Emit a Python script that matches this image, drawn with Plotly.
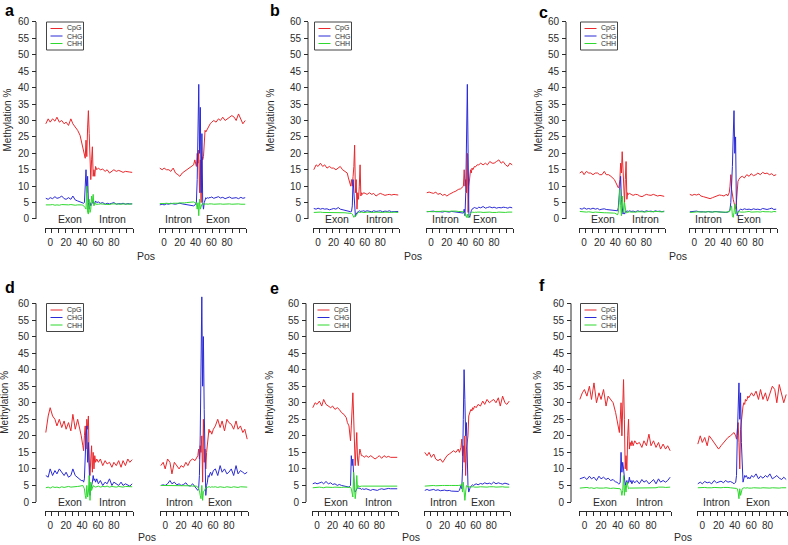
import plotly.graph_objects as go

W, H = 788, 545

# ---------------- data ----------------
POS = [-5.5, -2.5, 0, 3, 6, 8.5, 11.5, 14.5, 17.5, 20, 23, 26, 28.5, 31.5, 34.5, 37.5,
       39, 41,
       42, 43, 44, 45, 46, 47, 48, 49, 50, 51, 52, 53, 54, 55, 56, 57,
       58.5, 60.5,
       63, 66, 69, 71.5, 74.5, 77.5, 80, 83, 86, 89, 91.5, 94.5, 97.5, 100, 103]

X_TICK_POS = [0, 20, 40, 60, 80]
X_TICK_LABELS = ["0", "20", "40", "60", "80"]
Y_TICKS = [0, 5, 10, 15, 20, 25, 30, 35, 40, 45, 50, 55, 60]
SERIES = ["CpG", "CHG", "CHH"]
PANEL_LETTERS = ["a", "b", "c", "d", "e", "f"]
SEG_LABELS_LEFT = ["Exon", "Intron"]
SEG_LABELS_RIGHT = ["Intron", "Exon"]

# panel a
A_L_CPG = [29, 30.5, 29.5, 30.5, 29.8, 31, 29.5, 30, 29, 29.5, 28.5, 30.5, 29, 28, 27, 25.5,
           24, 22,
           21, 20, 18.5, 24, 19, 28, 33, 26, 16, 12, 18, 22, 13, 15, 13, 16,
           15, 15.5,
           15, 15.2, 14.5, 15, 14, 14.5, 15, 14.5, 14.8, 14.5, 14.2, 14.5, 14.5, 14.3, 14.2]
A_L_CHG = [6.3, 6, 6.5, 6.2, 6.8, 6.3, 6.5, 7, 6.2, 6, 6.5, 6, 7, 5.8, 5.5, 5.3,
           5.2, 5,
           4.8, 5, 12, 15, 8, 13, 5, 3, 5, 4, 4.5, 5, 5.5, 4.5, 4.8, 5.5,
           5, 5.2,
           4.8, 5, 4.5, 4.8, 4.6, 4.8, 5, 4.5, 4.7, 4.6, 4.8, 4.5, 4.7, 4.6, 4.6]
A_L_CHH = [4.3, 4.2, 4.3, 4.4, 4.2, 4.3, 4.2, 4.4, 4.3, 4.2, 4.3, 4.4, 4.3, 4.2, 4.3, 4.4,
           4.3, 4.2,
           4.0, 3.8, 3.5, 3.0, 10, 2, 1.5, 6, 2, 3, 7, 5, 7.5, 4, 5, 4.5,
           4.6, 4.5,
           4.6, 4.5, 4.6, 4.5, 4.4, 4.6, 4.5, 4.6, 4.5, 4.6, 4.5, 4.6, 4.5, 4.5, 4.6]
A_R_CPG = [15.5, 15, 15.5, 15, 15, 14.5, 15.5, 14, 13.5, 13, 14, 14.5, 15, 15.5, 16, 16.5,
           18, 16,
           20, 17, 21, 8, 18, 5, 19, 18, 19, 24, 27, 26.5, 27, 27.5, 28, 28,
           29, 29.5,
           30, 29.5, 30.5, 30, 31, 30, 30.5, 31, 31.5, 31, 30, 32, 30, 29, 30]
A_R_CHG = [4.3, 4.5, 4.3, 4.6, 4.5, 4.8, 4.6, 4.5, 4.7, 4.8, 4.6, 4.5, 4.4, 4.3, 4.2, 4.0,
           4.2, 5,
           12, 32, 41, 20, 34, 8, 26, 5, 3, 5, 6, 6.5, 6.2, 6.5, 6.3, 6.5,
           6.5, 6.7,
           6.3, 6.5, 6.8, 6.4, 6.6, 6.2, 6.5, 6.7, 6.3, 6.4, 6.5, 6.2, 6.6, 6.3, 6.5]
A_R_CHH = [4.7, 4.6, 4.7, 4.8, 4.7, 4.6, 4.8, 4.7, 4.8, 4.9, 4.8, 4.9, 5.0, 5.1, 5.2, 5.2,
           5.0, 4.8,
           3, 5, 1, 6, 3, 4, 4.5, 4.6, 4.5, 4.6, 4.5, 4.6, 4.5, 4.6, 4.5, 4.6,
           4.5, 4.6,
           4.5, 4.6, 4.5, 4.6, 4.5, 4.6, 4.5, 4.6, 4.5, 4.6, 4.5, 4.6, 4.5, 4.6, 4.5]

# panel b
B_L_CPG = [15, 16.5, 16, 17, 16, 16.5, 15.5, 16, 15.5, 15.5, 15, 15.5, 16, 15, 14.5, 14,
           12.5, 11,
           10, 12, 10, 13, 16, 22.5, 8, 12, 3, 8, 6, 10, 16.5, 7, 8, 7.5,
           8, 7.8,
           7.5, 8, 7.5, 7.8, 7, 7.5, 7.8, 7.5, 7.2, 7.4, 7.5, 7.3, 7.5, 7.4, 7.3]
B_L_CHG = [3.2, 3, 3.3, 3, 3.2, 3, 3.1, 2.8, 3, 3.2, 3, 3.5, 3, 2.8, 2.7, 2.5,
           2.5, 2.3,
           2.2, 2.3, 4, 12, 8, 2, 0.8, 1.5, 2, 2.2, 2.3, 2.5, 2.3, 2.4, 2.5, 2.4,
           2.5, 2.3,
           2.5, 2.4, 2.2, 2.5, 2.3, 2.4, 2.5, 2.2, 2.4, 2.3, 2.5, 2.2, 2.3, 2.4, 2.3]
B_L_CHH = [2, 2.1, 2, 2.1, 2, 2, 2.1, 2, 2, 2.1, 2, 1.9, 2, 1.9, 1.9, 1.8,
           1.8, 1.8,
           1.8, 1.7, 1.5, 1, 0.5, 1, 0.8, 1.2, 1.5, 1.8, 2, 2, 2.1, 2, 2.1, 2,
           2.1, 2,
           2.1, 2, 2.1, 2, 2.1, 2, 2.1, 2, 2.1, 2, 2.1, 2, 2.1, 2, 2]
B_R_CPG = [8, 8.2, 8, 7.8, 8.2, 7.5, 7.8, 7.2, 7.5, 7, 7.5, 8, 8.2, 8.5, 9, 9.2,
           9.5, 10,
           15, 10, 12, 8, 20, 2, 10, 12, 15, 14, 15.5, 15, 15.5, 16, 15.8, 16,
           16.5, 16.5,
           17, 16.5, 17, 16.5, 17.5, 17, 17, 17.5, 18, 17, 17.5, 16.5, 16, 17, 16.5]
B_R_CHG = [2.2, 2.3, 2.2, 2.4, 2.2, 2.3, 2.2, 2.1, 2.3, 2.2, 2.1, 2.3, 2.2, 2.1, 2, 2,
           2, 1.8,
           3, 1, 8, 30, 41, 20, 1, 0.5, 2, 2.5, 3, 3.2, 3.3, 3.5, 3.4, 3.3,
           3.2, 3.6,
           3.4, 3.8, 3.3, 3.5, 3.7, 3.4, 3.6, 3.3, 3.5, 3.4, 3.6, 3.5, 3.3, 3.6, 3.4]
B_R_CHH = [2.3, 2.2, 2.3, 2.2, 2.3, 2.2, 2.3, 2.4, 2.3, 2.4, 2.3, 2.4, 2.3, 2.4, 2.3, 2.3,
           2.2, 2.2,
           2, 1.5, 1, 0.5, 1.5, 0.3, 1, 1.5, 1.8, 2, 2.1, 2, 2.1, 2, 2.1, 2,
           2.1, 2,
           2.1, 2, 2.1, 2, 2.1, 2, 2.1, 2, 2.1, 2, 2.1, 2, 2.1, 2, 2.1]

# panel c
C_L_CPG = [14, 14.5, 13.5, 14.5, 14, 14, 13.5, 14, 14, 13.5, 13.5, 14.5, 13.5, 13.5, 13, 12.5,
           12, 11,
           10.5, 10, 9.5, 10, 12, 17, 14, 20.5, 15, 7, 5, 12, 17.5, 6, 8, 7.5,
           7.8, 7.5,
           7.2, 7.5, 7.4, 7, 6.8, 7.2, 7.5, 7.3, 7.2, 7.5, 7.2, 7, 7.2, 7, 6.9]
C_L_CHG = [3.2, 3, 3.4, 3, 3.2, 3, 3.3, 3, 3.2, 2.8, 3, 3.1, 2.9, 2.8, 2.8, 2.6,
           2.5, 2.5,
           2.4, 2.5, 3.5, 8, 12, 13, 6, 4, 1.5, 2, 1.5, 2, 2.5, 2.2, 2.5, 2.3,
           2.5, 2.3,
           2.4, 2.2, 2.5, 2.3, 2.4, 2.2, 2.5, 2.3, 2.4, 2.2, 2.5, 2.3, 2.4, 2.2, 2.4]
C_L_CHH = [2.3, 2.2, 2.3, 2.1, 2.2, 2.1, 2.0, 2.1, 2.0, 1.9, 2.0, 1.9, 1.9, 1.8, 1.9, 1.8,
           1.8, 1.7,
           1.5, 1.2, 2, 5, 9, 4, 1, 7, 3, 2, 5, 2.5, 1.8, 2, 2.1, 2.1,
           2.2, 2.1,
           2.2, 2.1, 2.2, 2.3, 2.2, 2.1, 2.2, 2.3, 2.2, 2.3, 2.2, 2.3, 2.2, 2.3, 2.2]
C_R_CPG = [7.5, 7.2, 7.5, 7.3, 7.6, 7, 6.8, 6.5, 6.3, 6.2, 6.5, 6.8, 7, 7.3, 7.2, 7,
           7.3, 7.5,
           7, 7.5, 8, 10, 13.5, 9, 7, 6, 5, 4, 3, 5, 10, 11.5, 12, 12.5,
           12.8, 13,
           12.5, 13.5, 13, 13.8, 13.2, 13.5, 14, 13.5, 14.2, 13.8, 14, 13.5, 13.8, 13.2, 13.5]
C_R_CHG = [2.2, 2.3, 2.2, 2.4, 2.2, 2.3, 2.2, 2.1, 2.3, 2.2, 2.1, 2.3, 2.2, 2.1, 2, 2,
           2, 2,
           2, 2.2, 2.5, 3, 5, 10, 16, 25, 33, 20, 25, 4, 1, 2, 2.5, 2.8,
           3, 2.8,
           3.1, 2.9, 3, 2.8, 3.1, 2.9, 3, 2.8, 3.2, 3, 2.9, 3.1, 3.3, 2.9, 3]
C_R_CHH = [2, 2.1, 2, 2.1, 2.2, 2.1, 2.2, 2.1, 2.2, 2.1, 2.2, 2.1, 2.2, 2.1, 2.2, 2.1,
           2.1, 2.2,
           2.1, 2.2, 2.2, 2.5, 3, 4, 1, 0.5, 2, 4.5, 1.5, 2, 2.1, 2.2, 2.1, 2.2,
           2.1, 2.2,
           2.1, 2.2, 2.3, 2.1, 2.2, 2.3, 2.2, 2.1, 2.3, 2.2, 2.3, 2.2, 2.1, 2.3, 2.2]

# panel d
D_L_CPG = [21, 26, 28.5, 26, 25, 23, 25, 22.5, 24.5, 22, 24, 21.5, 26.5, 22, 25, 22,
           20, 17,
           15.5, 20, 23, 16, 25, 22, 26, 12, 8, 13, 17, 9, 15, 10, 14, 12,
           13, 12,
           13, 11, 12.5, 11.5, 12, 10.5, 12, 11, 12.5, 10.5, 12.5, 11, 13, 12, 12.8]
D_L_CHG = [8, 7.5, 10, 8, 9.5, 8.5, 10, 9, 8, 9, 7.5, 8, 10, 8, 7.5, 7,
           6.5, 6.5,
           6, 7, 15, 20, 23, 12, 18, 4, 2, 4, 5, 6, 8, 6.5, 7, 6,
           7, 5.5,
           6.5, 5, 6, 5.5, 7, 5, 6, 5.5, 5, 6, 5, 5.5, 5, 4.8, 5.5]
D_L_CHH = [4.3, 4.5, 4.2, 4.6, 4.4, 4.5, 4.3, 4.6, 4.4, 4.5, 4.7, 4.5, 4.6, 4.8, 4.7, 4.8,
           4.8, 5,
           4.5, 4, 2, 1, 5, 1.5, 3, 8, 0.5, 6, 3.5, 4.5, 5, 4.6, 4.7, 4.5,
           4.6, 4.8,
           4.5, 4.7, 4.6, 4.8, 4.5, 4.7, 4.6, 4.5, 4.7, 4.6, 4.5, 4.7, 4.6, 4.5, 4.6]
D_R_CPG = [11, 12, 10, 13, 12, 8.5, 12, 11, 10, 11, 10.5, 12, 11, 12.5, 13, 12.5,
           13, 14,
           16, 13, 17, 15, 20, 6, 25, 12, 16, 10, 15, 17, 20, 22, 21, 21.5,
           20.5, 22,
           23, 25, 22.5, 24.5, 21.5, 25, 24, 23.5, 22, 24.5, 22, 23, 21, 22, 19]
D_R_CHG = [5, 5.2, 5, 5.5, 6.5, 5.5, 6, 5.2, 5.5, 5, 5.3, 5.8, 5, 4.8, 5.5, 4.5,
           4, 3.5,
           4, 8, 20, 49, 62, 35, 50, 28, 8, 2, 5, 6, 8, 7.5, 8.5, 9,
           8, 9.5,
           10, 8, 11, 9, 10, 8.5, 9, 10, 8, 11, 8.5, 9.5, 9, 8.5, 9]
D_R_CHH = [5, 5, 5.1, 5, 4.9, 5, 5.1, 5, 4.9, 5, 5, 4.9, 5, 4.9, 4.8, 4.8,
           4.8, 4.5,
           4, 3.5, 2, 1, 5, 0.5, 3, 3.5, 4, 4.5, 4.6, 4.4, 4.6, 4.5, 4.6, 4.4,
           4.6, 4.5,
           4.6, 4.4, 4.6, 4.5, 4.4, 4.6, 4.5, 4.4, 4.6, 4.5, 4.4, 4.6, 4.5, 4.4, 4.5]

# panel e
E_L_CPG = [28.5, 30, 29.5, 30.5, 29, 31, 29.5, 29, 28.5, 29, 28, 28.5, 28, 27, 26.5, 25.5,
           24, 23,
           21, 18.5, 23, 32, 33, 26, 14, 11, 16, 21, 13, 11, 14, 16, 15, 14,
           14, 13.5,
           14, 13.5, 14, 13.5, 13, 13.5, 14, 13.2, 14, 13.5, 13.8, 13.5, 13.5, 13.3, 13.5]
E_L_CHG = [5.5, 5.8, 5.5, 5.8, 6, 5.5, 6.2, 5.5, 5.8, 5.3, 5.5, 5, 5.3, 5, 4.8, 4.7,
           4.5, 4.5,
           4.8, 5, 14, 11, 13, 7, 3.5, 3, 3.5, 4, 4.3, 4.2, 4, 4.2, 4, 3.8,
           4, 3.8,
           4, 3.7, 3.5, 3.8, 3.6, 3.5, 3.8, 4, 3.8, 4, 4.1, 4, 4, 3.9, 4]
E_L_CHH = [4.3, 4.4, 4.3, 4.5, 4.4, 4.3, 4.5, 4.4, 4.5, 4.4, 4.5, 4.4, 4.5, 4.4, 4.5, 4.5,
           4.5, 4.4,
           4.5, 4.4, 4, 2, 1.5, 9, 5, 1, 3, 8, 4, 5, 4.6, 4.7, 4.7, 4.8,
           4.8, 4.8,
           4.8, 4.9, 4.8, 4.9, 4.8, 4.9, 4.8, 4.9, 4.8, 4.9, 4.8, 4.9, 4.8, 4.9, 4.8]
E_R_CPG = [15, 14, 15, 13.5, 14.5, 13, 12.5, 13, 12, 13, 14, 14.5, 15, 15.5, 15, 16,
           15, 16.5,
           19, 14, 17, 12, 20, 8, 16, 18, 20, 26, 27, 27.5, 28, 27.5, 28.5, 28,
           29, 28.5,
           29.5, 29, 30.5, 29.5, 31, 30, 30.5, 31, 30, 31.5, 29, 32, 30, 29.5, 30.5]
E_R_CHG = [3.5, 3.8, 3.5, 3.6, 3.8, 3.5, 3.7, 3.4, 3.5, 3.6, 3.4, 3.5, 3.3, 3.2, 3.3, 3.2,
           3.5, 5,
           4, 10, 25, 40, 31, 20, 24, 10, 5, 3, 4, 4.5, 4.8, 5, 5.2, 5,
           5.3, 5.5,
           5.2, 5.6, 5.4, 5.8, 5.5, 5.7, 5.4, 6, 5.5, 5.8, 5.6, 5.4, 5.7, 5.5, 5.3]
E_R_CHH = [4.8, 4.9, 4.8, 4.9, 5, 4.9, 5, 4.9, 5, 5, 4.9, 5, 5, 5.1, 5, 5,
           5, 5.1,
           5.5, 3, 6, 1, 0.5, 3, 5, 4.8, 4.5, 4.6, 4.5, 4.6, 4.5, 4.6, 4.5, 4.6,
           4.5, 4.6,
           4.5, 4.6, 4.5, 4.6, 4.5, 4.6, 4.5, 4.6, 4.5, 4.6, 4.5, 4.6, 4.5, 4.6, 4.5]

# panel f
F_L_CPG = [31, 33, 34, 32, 35, 31, 36, 30, 33, 31, 34, 29, 32, 31, 30, 27,
           25, 23,
           21, 25, 30, 20, 35, 37, 25, 10, 14, 9.5, 20, 25, 16, 18, 17, 18.5,
           17, 18.5,
           17.5, 18, 16.5, 18.5, 17, 20.5, 17, 18.5, 16.5, 18, 16, 17.5, 16, 17, 15.5]
F_L_CHG = [7, 7.2, 7.5, 6.8, 7.8, 7, 7.5, 6.5, 7.8, 7, 7.5, 6.8, 7.2, 6.5, 6.8, 6,
           6, 5.5,
           5.5, 6, 15, 9, 12, 10, 8, 5, 6, 6.5, 5.5, 6, 7.5, 6, 6.5, 5.5,
           6.5, 5.8,
           6.5, 5.5, 6.8, 6, 6.5, 5.5, 6, 6.8, 5.5, 7, 6, 6.5, 6, 6.5, 7.5]
F_L_CHH = [4.2, 4.3, 4.2, 4.4, 4.2, 4.3, 4.1, 4.3, 4.2, 4.3, 4.2, 4.3, 4.2, 4.1, 4.2, 4.1,
           4.1, 4,
           4, 4, 3.5, 2, 3.5, 8, 2, 5, 3, 6, 5, 4, 4.2, 4.2, 4.3, 4.2,
           4.3, 4.2,
           4.3, 4.4, 4.3, 4.4, 4.3, 4.4, 4.3, 4.4, 4.3, 4.5, 4.4, 4.5, 4.4, 4.5, 4.5]
F_R_CPG = [17.5, 20, 18, 19.5, 17, 20, 19, 18, 17, 16, 17, 18, 18.5, 19.5, 20, 20.5,
           21, 20,
           19, 22, 24, 18, 10, 22, 25, 27, 29, 30, 29.5, 31, 30.5, 31, 32, 31.5,
           32, 33,
           32, 33.5, 31, 34, 31, 33, 30.5, 33, 35, 34, 30, 35.5, 32, 30, 32.5]
F_R_CHG = [5.5, 6, 5.5, 6.2, 5.8, 6, 5.5, 6.5, 5.8, 6, 6.3, 5.8, 6.5, 6, 6.2, 5.8,
           5.5, 6,
           8, 20, 28, 36, 25, 33, 18, 10, 6, 7, 8, 7.5, 8, 7.5, 7, 7.5,
           7, 8,
           7.5, 8.5, 7, 7.8, 7.2, 8, 7.5, 8.5, 7, 7.5, 8, 7.2, 6.8, 7.5, 6.8]
F_R_CHH = [4.3, 4.4, 4.3, 4.4, 4.3, 4.4, 4.3, 4.4, 4.3, 4.4, 4.3, 4.4, 4.3, 4.4, 4.3, 4.3,
           4.2, 4.2,
           4.1, 4, 3, 1, 4, 2, 3.5, 4, 4.2, 4.3, 4.3, 4.2, 4.3, 4.2, 4.3, 4.2,
           4.3, 4.2,
           4.3, 4.2, 4.3, 4.2, 4.3, 4.2, 4.3, 4.2, 4.3, 4.2, 4.3, 4.2, 4.3, 4.2, 4.3]

PANEL_DATA = [
    [(A_L_CPG, A_L_CHG, A_L_CHH), (A_R_CPG, A_R_CHG, A_R_CHH)],
    [(B_L_CPG, B_L_CHG, B_L_CHH), (B_R_CPG, B_R_CHG, B_R_CHH)],
    [(C_L_CPG, C_L_CHG, C_L_CHH), (C_R_CPG, C_R_CHG, C_R_CHH)],
    [(D_L_CPG, D_L_CHG, D_L_CHH), (D_R_CPG, D_R_CHG, D_R_CHH)],
    [(E_L_CPG, E_L_CHG, E_L_CHH), (E_R_CPG, E_R_CHG, E_R_CHH)],
    [(F_L_CPG, F_L_CHG, F_L_CHH), (F_R_CPG, F_R_CHG, F_R_CHH)],
]
bad = []
for pi, panel in enumerate(PANEL_DATA):
    for si, seg in enumerate(panel):
        for ci, arr in enumerate(seg):
            if len(arr) != len(POS):
                bad.append((PANEL_LETTERS[pi], si, ci, len(arr)))
assert not bad, bad

# ---------------- styling / geometry (pixels) ----------------
COLORS = ["#e8282c", "#2a2ad6", "#2fd82f"]
AX = "#2b2b2b"
FONT = "Liberation Sans, Arial, sans-serif"
XRANGE = [-6.5, 104]
YMIN, YMAX = -2.6, 63.5
MINOR_TICKS = [-6.5 + 8.5 * i for i in range(14)]
SEG_LABEL_X_LEFT = [24.5, 78.5]
SEG_LABEL_X_RIGHT = [18, 69]

GEOM = [
    dict(yx=36, y60=22, y0=219, left=(45, 133), right=(159, 246), letter=(3, 10), yt=7),
    dict(yx=308, y60=22, y0=219, left=(313, 399), right=(426, 513), letter=(268, 10), yt=270),
    dict(yx=566, y60=22, y0=219, left=(579, 665), right=(689, 777), letter=(537, 12), yt=538),
    dict(yx=36, y60=303.5, y0=502, left=(45, 133), right=(160, 248), letter=(3, 287), yt=5),
    dict(yx=306, y60=303.5, y0=502, left=(312, 398), right=(424, 510), letter=(268, 288), yt=270),
    dict(yx=571, y60=303.5, y0=502, left=(579, 671), right=(697, 787), letter=(537, 285), yt=538),
]
POS_LABEL_Y = [256, 256, 256, 537, 537, 537]


def px(x):
    return x / W


def py(y):
    return 1 - y / H


fig = go.Figure()
layout = dict(
    width=W, height=H, margin=dict(l=0, r=0, t=0, b=0, autoexpand=False),
    paper_bgcolor="white", plot_bgcolor="white",
    font=dict(family=FONT, color=AX, size=10),
    showlegend=False,
)
shapes, annotations = [], []

for p, g in enumerate(GEOM):
    ppu = (g["y0"] - g["y60"]) / 60.0
    dom_bot = g["y0"] - YMIN * ppu
    dom_top = g["y0"] - YMAX * ppu
    yref = "y" if p == 0 else f"y{p + 1}"
    yname = "yaxis" if p == 0 else f"yaxis{p + 1}"
    layout[yname] = dict(
        domain=[py(dom_bot), py(dom_top)], range=[YMIN, YMAX],
        anchor="free", position=px(g["yx"]),
        tickmode="array", tickvals=Y_TICKS,
        ticks="outside", ticklen=4, tickwidth=1, tickcolor=AX,
        showline=False, showgrid=False, zeroline=False,
        tickfont=dict(size=10, color=AX, family=FONT),
        ticklabelstandoff=1,
    )
    shapes.append(dict(type="line", xref="paper", yref=yref,
                       x0=px(g["yx"]), x1=px(g["yx"]), y0=Y_TICKS[0], y1=Y_TICKS[-1],
                       line=dict(color=AX, width=1)))
    for s, (x0, x1) in enumerate([g["left"], g["right"]]):
        k = 2 * p + s + 1
        xref = "x" if k == 1 else f"x{k}"
        xname = "xaxis" if k == 1 else f"xaxis{k}"
        layout[xname] = dict(
            domain=[px(x0), px(x1)], range=XRANGE, anchor=yref,
            showline=True, linecolor=AX, linewidth=1,
            tickmode="array", tickvals=X_TICK_POS, ticktext=X_TICK_LABELS,
            ticks="", tickangle=0, showgrid=False, zeroline=False,
            tickfont=dict(size=10, color=AX, family=FONT),
            ticklabelstandoff=5,
            minor=dict(tickmode="array", tickvals=MINOR_TICKS, ticks="outside",
                       ticklen=4, tickwidth=1, tickcolor=AX, showgrid=False),
        )
        for ci, name in enumerate(SERIES):
            fig.add_trace(go.Scatter(
                x=POS, y=PANEL_DATA[p][s][ci], mode="lines", name=name,
                line=dict(color=COLORS[ci], width=1),
                xaxis=xref, yaxis=yref, hoverinfo="skip", showlegend=False))
        labs = SEG_LABELS_LEFT if s == 0 else SEG_LABELS_RIGHT
        labx = SEG_LABEL_X_LEFT if s == 0 else SEG_LABEL_X_RIGHT
        for lab, xv in zip(labs, labx):
            annotations.append(dict(text=lab, xref=xref, yref=yref, x=xv, y=0,
                                    xanchor="center", yanchor="middle", showarrow=False,
                                    font=dict(size=10.5, color=AX, family=FONT)))
    annotations.append(dict(text="Pos", xref="paper", yref="paper",
                            x=px((g["left"][0] + g["right"][1]) / 2), y=py(POS_LABEL_Y[p]),
                            xanchor="center", yanchor="middle", showarrow=False,
                            font=dict(size=10.5, color=AX, family=FONT)))
    annotations.append(dict(text="Methylation %", xref="paper", yref="paper",
                            x=px(g["yt"]), y=py((g["y0"] + g["y60"]) / 2), textangle=-90,
                            xanchor="center", yanchor="middle", showarrow=False,
                            font=dict(size=10, color=AX, family=FONT)))
    annotations.append(dict(text="<b>%s</b>" % PANEL_LETTERS[p], xref="paper", yref="paper",
                            x=px(g["letter"][0]), y=py(g["letter"][1]),
                            xanchor="left", yanchor="middle", showarrow=False,
                            font=dict(size=16, color="black", family=FONT)))
    bx, by = g["left"][0] + 1.5, g["y60"]
    bw, bh = 37, 28
    shapes.append(dict(type="rect", xref="paper", yref="paper",
                       x0=px(bx), x1=px(bx + bw), y0=py(by + bh), y1=py(by),
                       line=dict(color="#444", width=1), fillcolor="white"))
    for ci, name in enumerate(SERIES):
        yy = by + 6.5 + ci * 7.5
        shapes.append(dict(type="line", xref="paper", yref="paper",
                           x0=px(bx + 4), x1=px(bx + 16), y0=py(yy), y1=py(yy),
                           line=dict(color=COLORS[ci], width=1)))
        annotations.append(dict(text=name, xref="paper", yref="paper",
                                x=px(bx + 18), y=py(yy), xanchor="left", yanchor="middle",
                                showarrow=False, font=dict(size=7, color=AX, family=FONT)))

layout["shapes"] = shapes
layout["annotations"] = annotations
fig.update_layout(**layout)
fig.write_html("out.html",
               config={"displayModeBar": False},
               post_script="document.body.style.margin='0px';document.body.style.overflow='hidden';")
